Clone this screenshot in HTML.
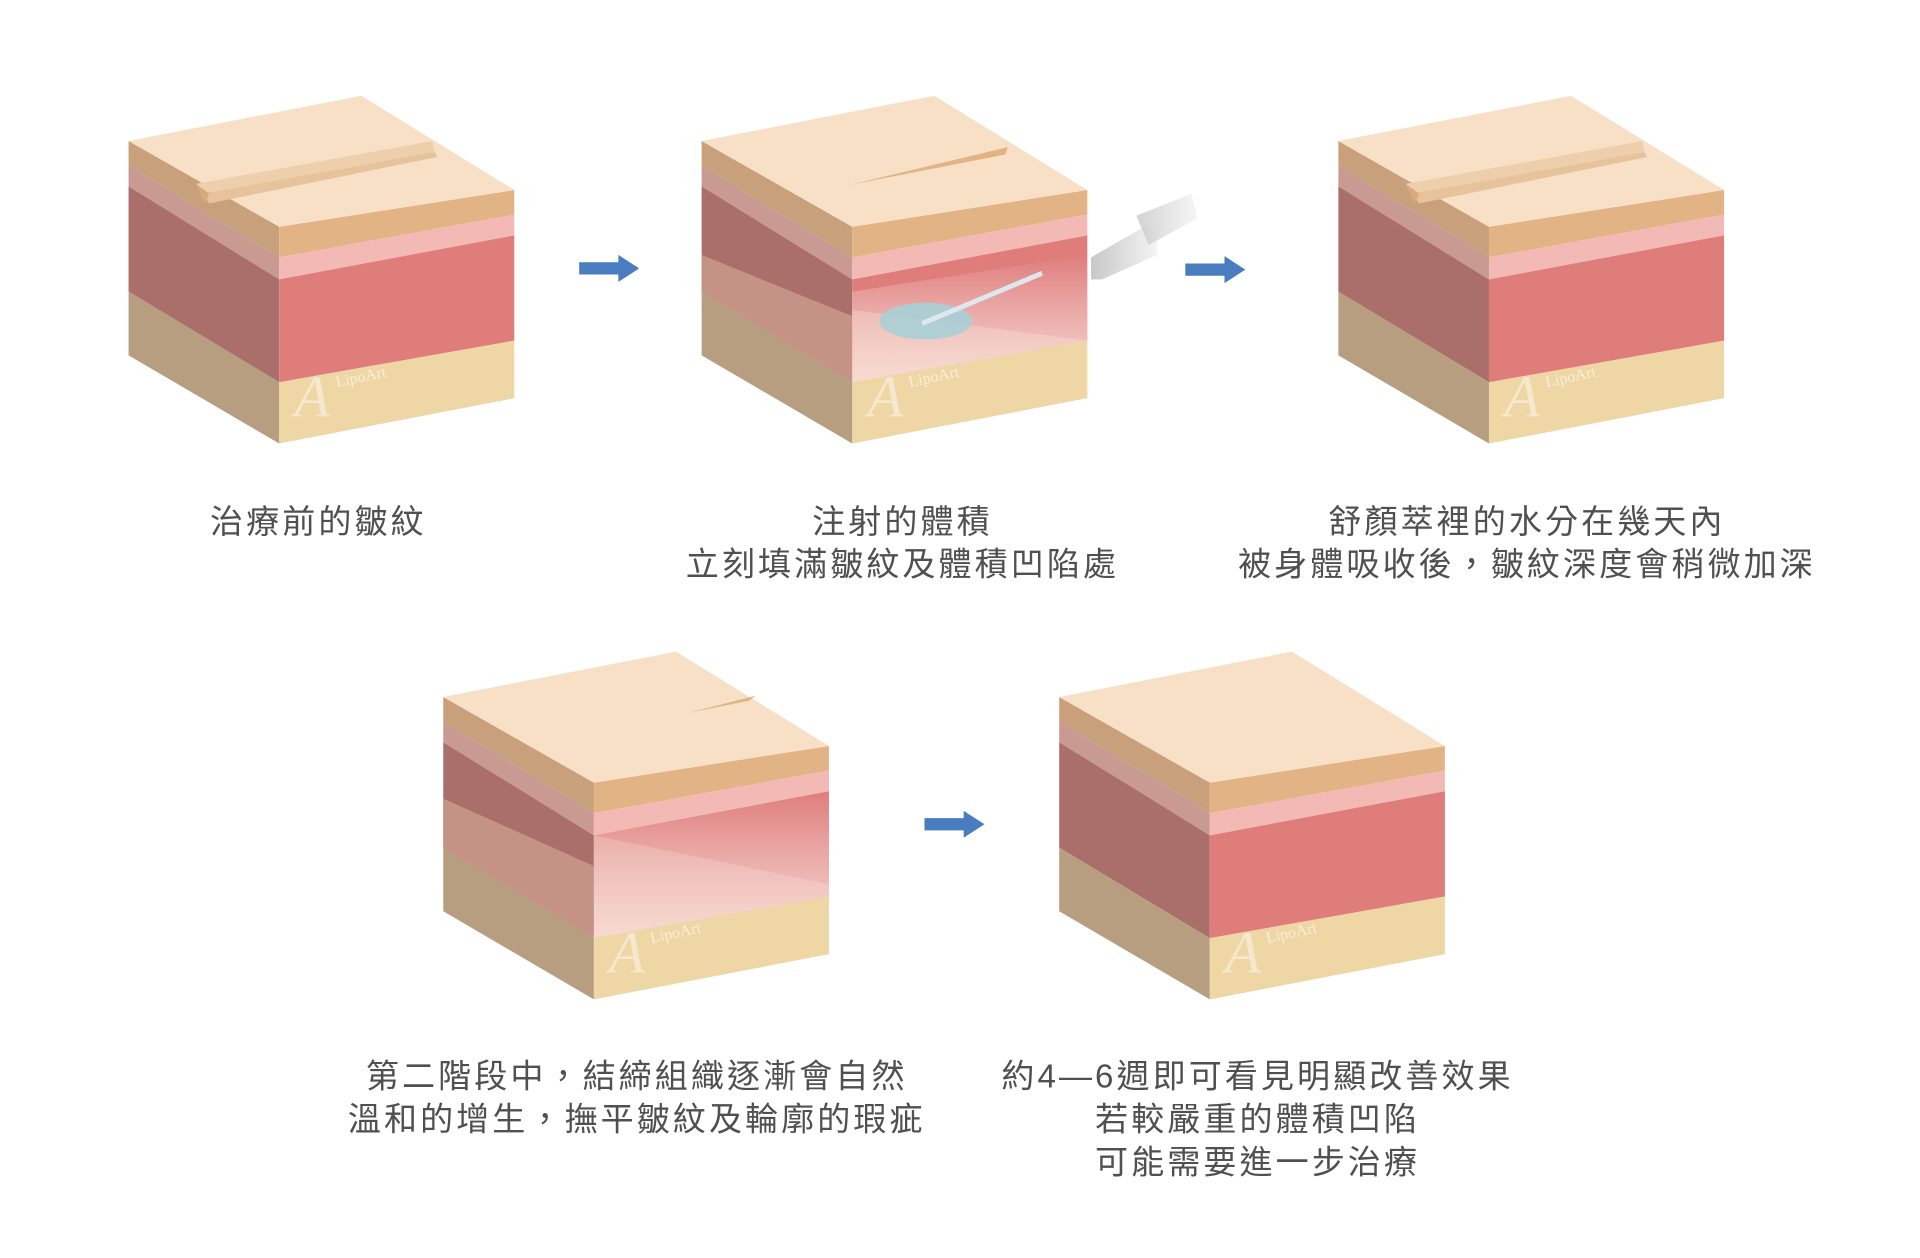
<!DOCTYPE html>
<html><head><meta charset="utf-8"><style>
html,body{margin:0;padding:0;background:#fff;width:1920px;height:1258px;overflow:hidden}
svg{display:block}
text{font-family:"Liberation Sans","Noto Sans CJK TC",sans-serif;fill:#505050;font-size:27px;letter-spacing:2.5px;text-anchor:middle}
</style></head><body>
<svg width="1920" height="1258" viewBox="0 0 1568 1027" xmlns="http://www.w3.org/2000/svg">
<defs>
<linearGradient id="fade" x1="0" y1="0" x2="0" y2="1">
<stop offset="0" stop-color="#fff" stop-opacity="0"/>
<stop offset="1" stop-color="#fbe6dc" stop-opacity="0.85"/>
</linearGradient>
<linearGradient id="syr" x1="0" y1="0" x2="1" y2="0">
<stop offset="0" stop-color="#c8c8c8"/><stop offset="1" stop-color="#f4f4f4"/>
</linearGradient>
<g id="cube">
<polygon points="0,37 123,107 123,132 0,57" fill="#c9a07c"/>
<polygon points="0,57 123,132 123,150 0,74" fill="#c89a92"/>
<polygon points="0,74 123,150 123,234 0,160" fill="#ab6f6b"/>
<polygon points="0,160 123,234 123,284 0,212" fill="#b89e80"/>
<polygon points="123,107 315,77 315,97 123,132" fill="#e2b485"/>
<polygon points="123,132 315,97 315,114 123,150" fill="#f2b9b5"/>
<polygon points="123,150 315,114 315,200 123,234" fill="#df7d7b"/>
<polygon points="123,234 315,200 315,247 123,284" fill="#eed6a5"/>
<polygon points="0,37 190,0 315,77 123,107" fill="#f8e0c6"/>
<text x="170" y="238" style="font-family:'Liberation Serif',serif;font-size:13px;letter-spacing:0;fill:#fff;opacity:0.6;text-anchor:start" transform="rotate(-12 170 238)">LipoArt</text>
<text x="150" y="262" style="font-family:'Liberation Serif',serif;font-style:italic;font-size:48px;letter-spacing:0;fill:#fff;opacity:0.45">A</text>
</g>
<g id="groove">
<polygon points="55,72 60,80 250,46 248,37" fill="#edcfab"/>
<polygon points="60,80 66,88 252,50 250,46" fill="#e6c39b"/>
<polygon points="55,72 62,88 66,80" fill="#d9a979"/>
</g>
</defs>

<g transform="translate(105,78)"><use href="#cube"/><use href="#groove"/></g>
<g transform="translate(573,78)">
<use href="#cube"/>
<polygon points="120,73 248,48 250,42" fill="#e2b485"/>
<polygon points="0,130 123,180 123,234 0,160" fill="#c89a8a" opacity="0.85"/>
<polygon points="123,175 315,200 123,234" fill="#eab0a4" opacity="0.6"/>
<polygon points="123,160 315,130 315,200 123,234" fill="url(#fade)"/>
<ellipse cx="183" cy="184" rx="38" ry="15" fill="#a9cfd6" opacity="0.9"/>
<line x1="180" y1="186" x2="278" y2="145" stroke="#dde8ee" stroke-width="4"/>
<polygon points="318,132 365,105 372,112 372,130 327,150 318,150" fill="url(#syr)"/>
<polygon points="355,98 400,80 405,100 365,122" fill="url(#syr)" opacity="0.8"/>
</g>
<g transform="translate(1093,78)"><use href="#cube"/><use href="#groove"/></g>
<g transform="translate(362,532)">
<use href="#cube"/>
<polygon points="200,50 250,40 255,36" fill="#e2b485"/>
<polygon points="0,120 123,175 123,234 0,160" fill="#c89a8a" opacity="0.85"/>
<polygon points="123,150 315,190 315,200 123,234" fill="#eab0a4" opacity="0.5"/>
<polygon points="123,150 315,114 315,200 123,234" fill="url(#fade)"/>
</g>
<g transform="translate(865,532)"><use href="#cube"/></g>

<g fill="#4a7cc0">
<polygon points="473,214 505,214 505,208 522,219 505,230 505,224 473,224"/>
<polygon points="968,215 1000,215 1000,209 1017,220 1000,231 1000,225 968,225"/>
<polygon points="755,668 787,668 787,662 804,673 787,684 787,678 755,678"/>
</g>

<text x="260" y="435">治療前的皺紋</text>
<text x="737" y="435">注射的體積</text>
<text x="737" y="470">立刻填滿皺紋及體積凹陷處</text>
<text x="1247" y="435">舒顏萃裡的水分在幾天內</text>
<text x="1247" y="470">被身體吸收後，皺紋深度會稍微加深</text>
<text x="520" y="888">第二階段中，結締組織逐漸會自然</text>
<text x="520" y="923">溫和的增生，撫平皺紋及輪廓的瑕疵</text>
<text x="1027" y="888">約4—6週即可看見明顯改善效果</text>
<text x="1027" y="923">若較嚴重的體積凹陷</text>
<text x="1027" y="958">可能需要進一步治療</text>
</svg>
</body></html>
